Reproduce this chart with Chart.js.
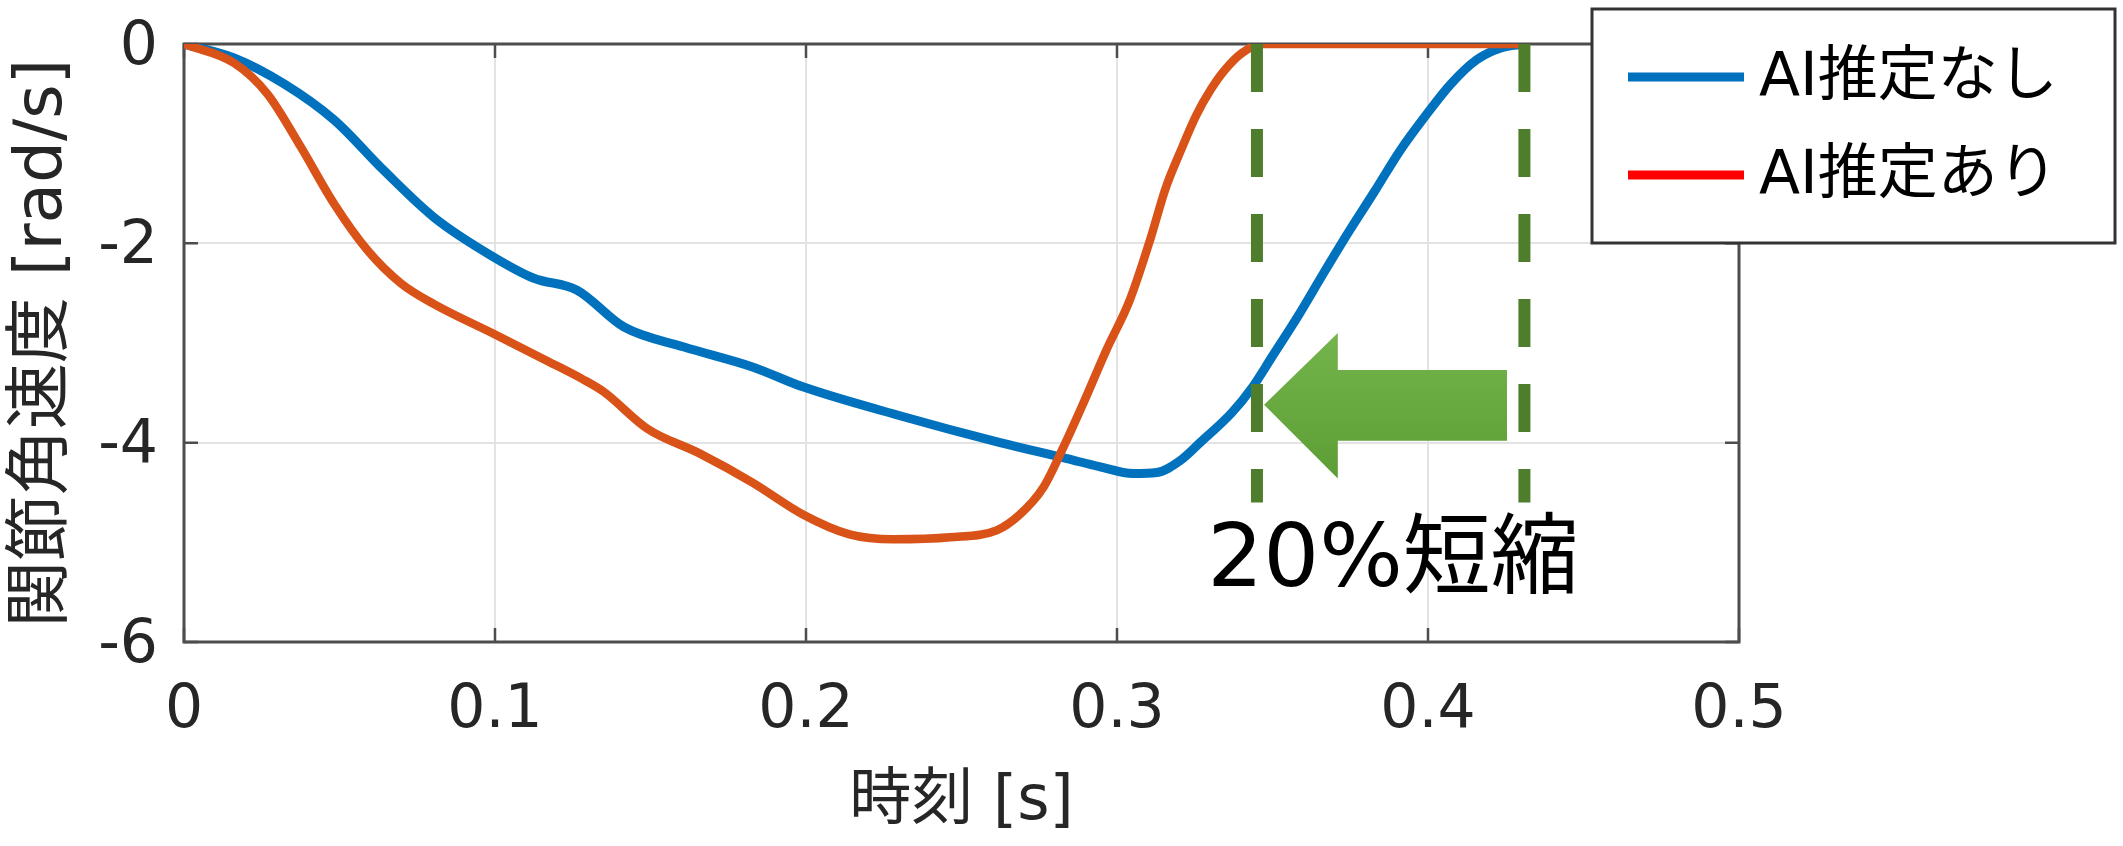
<!doctype html>
<html lang="ja">

<head>
  <meta charset="utf-8" />
  <title>関節角速度</title>
  <script src="https://cdn.jsdelivr.net/npm/chart.js@4.4.1/dist/chart.umd.min.js"></script>
  <style>
    html,
    body {
      margin: 0;
      padding: 0;
      background: #ffffff;
    }

    .chart_box {
      position: relative;
      width: 2123px;
      height: 846px;
    }
  </style>
</head>

<body>

  <div class="chart_box">
    <canvas id="velChart"></canvas>
  </div>

  <script>
    // Joint angular velocity vs time
    const timeNoAI = [0, 0.0161, 0.0322, 0.0482, 0.0643, 0.0804, 0.0997, 0.1125, 0.1264, 0.1415, 0.1608,
      0.1828, 0.199, 0.2302, 0.2624, 0.2839, 0.2943, 0.3052, 0.3128, 0.3203, 0.3267, 0.3369, 0.3434,
      0.35, 0.3582, 0.3664, 0.3746, 0.3828, 0.391, 0.3992, 0.4074, 0.4156, 0.4234, 0.431];
    const velNoAI = [0, -0.14, -0.40, -0.76, -1.27, -1.74, -2.14, -2.35, -2.47, -2.84, -3.04,
      -3.24, -3.44, -3.73, -4.00, -4.16, -4.24, -4.31, -4.30, -4.18, -4.00, -3.70, -3.45,
      -3.13, -2.73, -2.30, -1.88, -1.48, -1.07, -0.72, -0.40, -0.16, -0.04, 0];

    const timeAI = [0, 0.0161, 0.0268, 0.0375, 0.0482, 0.059, 0.0697, 0.0804, 0.0997, 0.1168, 0.128,
      0.135, 0.149, 0.1659, 0.1828, 0.199, 0.214, 0.228, 0.2463, 0.2613, 0.2688, 0.2763, 0.2827, 0.2891,
      0.2966, 0.3041, 0.3107, 0.3156, 0.3205, 0.3254, 0.3303, 0.3344, 0.3402, 0.3467, 0.431];
    const velAI = [0, -0.19, -0.50, -1.03, -1.60, -2.07, -2.40, -2.61, -2.91, -3.18, -3.36,
      -3.49, -3.86, -4.11, -4.40, -4.72, -4.92, -4.97, -4.95, -4.88, -4.72, -4.45, -4.05, -3.61,
      -3.07, -2.57, -1.96, -1.45, -1.07, -0.72, -0.45, -0.27, -0.09, 0, 0];

    const seriesLabels = ["AI推定なし", "AI推定あり"];
    const lineColors = ["#0072BD", "#D95319"];
    const legendColors = ["#0072BD", "#FF0000"]; // legend swatch differs from the plotted line

    const xTickLabels = ["0", "0.1", "0.2", "0.3", "0.4", "0.5"];
    const yTickLabels = ["-6", "-4", "-2", "0"];

    // end times marked by the dashed lines, and how deep they reach
    const markerTimes = [0.345, 0.431];
    const markerDepth = [0, -4.6];

    // outline of the "shortened" arrow, in data units
    const arrowX = [0.4254, 0.371, 0.371, 0.3473, 0.371, 0.371, 0.4254, 0.4254];
    const arrowY = [-3.27, -3.27, -2.90, -3.62, -4.36, -3.98, -3.98, -3.27];

    const noteText = "20%短縮";
    const notePos = [0.329, -5.21];

    const FONT = '"DejaVu Sans", "Noto Sans CJK JP", sans-serif';
    const TEXT = "#262626";

    const toPoints = (xs, ys) => xs.map((x, i) => ({ x: x, y: ys[i] }));

    // box round the axes plus inward ticks, MATLAB style
    const axesFrame = {
      id: "axesFrame",
      beforeDatasetsDraw(chart) {
        const { ctx, chartArea: a, scales } = chart;
        const tl = 14;
        ctx.save();
        ctx.strokeStyle = "#4d4d4d";
        ctx.lineWidth = 3;
        ctx.strokeRect(a.left, a.top, a.width, a.height);
        ctx.lineWidth = 2.5;
        ctx.beginPath();
        scales.x.ticks.forEach((t) => {
          const px = scales.x.getPixelForValue(t.value);
          ctx.moveTo(px, a.bottom);
          ctx.lineTo(px, a.bottom - tl);
          ctx.moveTo(px, a.top);
          ctx.lineTo(px, a.top + tl);
        });
        scales.y.ticks.forEach((t) => {
          const py = scales.y.getPixelForValue(t.value);
          ctx.moveTo(a.left, py);
          ctx.lineTo(a.left + tl, py);
          ctx.moveTo(a.right, py);
          ctx.lineTo(a.right - tl, py);
        });
        ctx.stroke();
        ctx.restore();
      },
    };

    const noteLabel = {
      id: "noteLabel",
      afterDatasetsDraw(chart) {
        const { ctx, scales } = chart;
        ctx.save();
        ctx.font = "88px " + FONT;
        ctx.fillStyle = "#000000";
        ctx.textAlign = "left";
        ctx.textBaseline = "middle";
        ctx.fillText(noteText, scales.x.getPixelForValue(notePos[0]), scales.y.getPixelForValue(notePos[1]));
        ctx.restore();
      },
    };

    // legend box sits over the top right corner of the axes
    const boxLegend = {
      id: "boxLegend",
      afterDraw(chart) {
        const { ctx } = chart;
        const box = { x: 1592, y: 9, w: 523, h: 234 };
        ctx.save();
        ctx.fillStyle = "#ffffff";
        ctx.fillRect(box.x, box.y, box.w, box.h);
        ctx.strokeStyle = "#333333";
        ctx.lineWidth = 3;
        ctx.strokeRect(box.x, box.y, box.w, box.h);
        ctx.font = "60px " + FONT;
        ctx.textBaseline = "middle";
        ctx.textAlign = "left";
        seriesLabels.forEach((label, i) => {
          const yy = 77 + i * 98;
          ctx.strokeStyle = legendColors[i];
          ctx.lineWidth = 9;
          ctx.beginPath();
          ctx.moveTo(1628, yy);
          ctx.lineTo(1744, yy);
          ctx.stroke();
          ctx.fillStyle = "#000000";
          ctx.fillText(label, 1759, yy + 2);
        });
        ctx.restore();
      },
    };

    const velChart = new Chart(document.getElementById("velChart"), {
      type: "line",
      plugins: [axesFrame, noteLabel, boxLegend],
      data: {
        datasets: [
          {
            label: seriesLabels[0],
            data: toPoints(timeNoAI, velNoAI),
            borderColor: lineColors[0],
            borderWidth: 9,
            pointRadius: 0,
            cubicInterpolationMode: "monotone",
            order: 4,
          },
          {
            label: seriesLabels[1],
            data: toPoints(timeAI, velAI),
            borderColor: lineColors[1],
            borderWidth: 8.5,
            pointRadius: 0,
            cubicInterpolationMode: "monotone",
            order: 3,
          },
          ...markerTimes.map((t) => ({
            label: "marker",
            data: markerDepth.map((d) => ({ x: t, y: d })),
            borderColor: "#4E7D2C",
            borderWidth: 12,
            borderDash: [48, 37],
            borderCapStyle: "butt",
            pointRadius: 0,
            order: 2,
          })),
          {
            label: "arrow",
            data: toPoints(arrowX, arrowY),
            borderColor: "transparent",
            borderWidth: 1,
            pointRadius: 0,
            tension: 0,
            fill: "shape",
            backgroundColor: (c) => {
              const { chart } = c;
              if (!chart.chartArea) return "#66AC3D";
              const y = chart.scales.y;
              const g = chart.ctx.createLinearGradient(0, y.getPixelForValue(Math.max(...arrowY)), 0,
                y.getPixelForValue(Math.min(...arrowY)));
              g.addColorStop(0, "#74B44C");
              g.addColorStop(1, "#5C9E35");
              return g;
            },
            order: 1,
          },
        ],
      },
      options: {
        responsive: true,
        maintainAspectRatio: false,
        animation: false,
        layout: { padding: { left: 0, top: 44, right: 384, bottom: 0 } },
        plugins: {
          legend: { display: false },
          tooltip: { enabled: false },
        },
        scales: {
          x: {
            type: "linear",
            min: 0,
            max: 0.5,
            afterFit: (s) => {
              s.height = 204;
              s.paddingLeft = 0;
              s.paddingRight = 0;
            },
            border: { display: false },
            grid: { color: "#E3E3E3", lineWidth: 2, drawTicks: false },
            ticks: {
              stepSize: 0.1,
              padding: 33,
              color: TEXT,
              font: { family: FONT, size: 60 },
              maxRotation: 0,
              callback: (v, i) => xTickLabels[i],
            },
            title: {
              display: true,
              text: "時刻 [s]",
              color: TEXT,
              font: { family: FONT, size: 62 },
              padding: { top: 0, bottom: 6 },
            },
          },
          y: {
            type: "linear",
            min: -6,
            max: 0,
            afterFit: (s) => {
              s.width = 184;
              s.paddingTop = 0;
              s.paddingBottom = 0;
            },
            border: { display: false },
            grid: { color: "#E3E3E3", lineWidth: 2, drawTicks: false },
            ticks: {
              stepSize: 2,
              padding: 26,
              labelOffset: 4,
              color: TEXT,
              font: { family: FONT, size: 60 },
              callback: (v, i) => yTickLabels[i],
            },
            title: {
              display: true,
              text: "関節角速度 [rad/s]",
              color: TEXT,
              font: { family: FONT, size: 66 },
              padding: { top: 4, bottom: 0 },
            },
          },
        },
      },
    });
  </script>

</body>

</html>
